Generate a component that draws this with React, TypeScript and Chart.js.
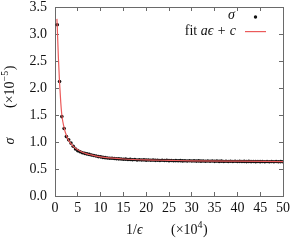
import React, { useEffect, useRef } from "react";
import { Chart, registerables } from "chart.js";

Chart.register(...registerables);

const sigmaX = [
  0.5, 1, 1.5, 2, 2.5, 3, 3.5, 4, 4.5, 5,
  5.5, 6, 6.5, 7, 7.5, 8, 8.5, 9, 9.5, 10,
  10.5, 11, 11.5, 12, 12.5, 13, 13.5, 14, 14.5, 15,
  15.5, 16, 16.5, 17, 17.5, 18, 18.5, 19, 19.5, 20,
  20.5, 21, 21.5, 22, 22.5, 23, 23.5, 24, 24.5, 25,
  25.5, 26, 26.5, 27, 27.5, 28, 28.5, 29, 29.5, 30,
  30.5, 31, 31.5, 32, 32.5, 33, 33.5, 34, 34.5, 35,
  35.5, 36, 36.5, 37, 37.5, 38, 38.5, 39, 39.5, 40,
  40.5, 41, 41.5, 42, 42.5, 43, 43.5, 44, 44.5, 45,
  45.5, 46, 46.5, 47, 47.5, 48, 48.5, 49, 49.5, 50,
];
const sigmaY = [
  3.17, 2.12, 1.47, 1.25, 1.1, 1.04, 0.98, 0.92, 0.87, 0.84,
  0.82, 0.8, 0.79, 0.78, 0.77, 0.76, 0.75, 0.74, 0.73, 0.725,
  0.715, 0.71, 0.705, 0.7, 0.7, 0.695, 0.69, 0.688, 0.685, 0.68,
  0.682, 0.676, 0.678, 0.672, 0.675, 0.668, 0.671, 0.666, 0.669, 0.664,
  0.667, 0.662, 0.665, 0.66, 0.663, 0.658, 0.661, 0.657, 0.66, 0.655,
  0.658, 0.653, 0.656, 0.652, 0.655, 0.65, 0.654, 0.649, 0.652, 0.648,
  0.651, 0.646, 0.65, 0.645, 0.649, 0.644, 0.648, 0.643, 0.647, 0.642,
  0.646, 0.641, 0.645, 0.64, 0.644, 0.64, 0.643, 0.639, 0.643, 0.638,
  0.642, 0.638, 0.641, 0.637, 0.641, 0.637, 0.64, 0.636, 0.64, 0.636,
  0.639, 0.635, 0.639, 0.635, 0.638, 0.634, 0.638, 0.634, 0.637, 0.634,
];

const fitX = [0.42, 0.5, 0.75, 1, 1.25, 1.5, 2, 2.5, 3, 3.5, 4, 5, 6, 7, 8, 10, 12, 15, 20, 25, 30, 40, 50];
const fitY = [3.28, 3.12, 2.55, 2.1, 1.75, 1.5, 1.26, 1.12, 1.03, 0.97, 0.92, 0.855, 0.81, 0.78, 0.76, 0.725, 0.705, 0.685, 0.668, 0.66, 0.652, 0.644, 0.638];

const xTicks = [0, 5, 10, 15, 20, 25, 30, 35, 40, 45, 50];
const yTicks = [0, 0.5, 1, 1.5, 2, 2.5, 3, 3.5];

const SERIF = '"Liberation Serif", "DejaVu Serif", serif';
const RED = "rgb(235,90,90)";
const AXIS = "#6a6a6a";
const FS = 14;

const textPlugin = {
  id: "texts",
  afterDraw(chart: any) {
    const ctx = chart.ctx;
    ctx.save();
    ctx.fillStyle = "#111";
    ctx.textBaseline = "middle";
    // legend
    ctx.textAlign = "right";
    ctx.font = `italic ${FS}px ${SERIF}`;
    ctx.fillText("σ", 235, 15);
    ctx.beginPath();
    ctx.arc(255.5, 17, 1.7, 0, Math.PI * 2);
    ctx.fill();
    const part2 = "aϵ + c";
    const w2 = ctx.measureText(part2).width;
    ctx.fillText(part2, 236, 31);
    ctx.font = `${FS}px ${SERIF}`;
    ctx.fillText("fit ", 236 - w2, 31);
    ctx.fillStyle = RED;
    ctx.fillRect(245, 31, 21, 1.2);
    ctx.fillStyle = "#111";

    // x axis title
    ctx.textAlign = "left";
    ctx.font = `${FS}px ${SERIF}`;
    ctx.fillText("1/", 126, 230);
    const w1 = ctx.measureText("1/").width;
    ctx.font = `italic ${FS}px ${SERIF}`;
    ctx.fillText("ϵ", 126 + w1, 230);
    ctx.font = `${FS}px ${SERIF}`;
    let x0 = 171;
    ctx.fillText("(×10", x0, 230);
    x0 += ctx.measureText("(×10").width;
    ctx.font = `10px ${SERIF}`;
    ctx.fillText("4", x0, 225);
    x0 += ctx.measureText("4").width + 0.5;
    ctx.font = `${FS}px ${SERIF}`;
    ctx.fillText(")", x0, 230);

    // y axis title
    ctx.save();
    ctx.translate(10, 141);
    ctx.rotate(-Math.PI / 2);
    ctx.textAlign = "center";
    ctx.font = `italic ${FS}px ${SERIF}`;
    ctx.fillText("σ", 0, 0);
    ctx.restore();

    ctx.save();
    ctx.translate(10, 108);
    ctx.rotate(-Math.PI / 2);
    ctx.textAlign = "left";
    ctx.font = `${FS}px ${SERIF}`;
    let y0 = 0;
    ctx.fillText("(×10", y0, 0);
    y0 += ctx.measureText("(×10").width;
    ctx.font = `10px ${SERIF}`;
    ctx.fillText("−5", y0, -5);
    y0 += ctx.measureText("−5").width + 0.5;
    ctx.font = `${FS}px ${SERIF}`;
    ctx.fillText(")", y0, 0);
    ctx.restore();

    ctx.restore();
  },
};

const gridOpts = {
  display: true,
  drawOnChartArea: false,
  drawTicks: true,
  tickLength: -4,
  color: AXIS,
  lineWidth: 1,
};
const borderOpts = { display: true, color: AXIS, width: 1 };

export default function App() {
  const ref = useRef<HTMLCanvasElement>(null);
  useEffect(() => {
    document.body.style.margin = "0";
    const fitData = fitX.map((x, i) => ({ x, y: fitY[i] }));
    const sigmaData = sigmaX.map((x, i) => ({ x, y: sigmaY[i] }));
    const setX = (s: any) => {
      s.ticks = xTicks.map((v) => ({ value: v }));
    };
    const setY = (s: any) => {
      s.ticks = yTicks.map((v) => ({ value: v }));
    };
    const chart = new Chart(ref.current as HTMLCanvasElement, {
      type: "scatter",
      data: {
        datasets: [
          {
            label: "fit",
            data: fitData,
            showLine: true,
            borderColor: RED,
            borderWidth: 1.2,
            pointRadius: 0,
            cubicInterpolationMode: "monotone",
          } as any,
          {
            label: "σ",
            data: sigmaData,
            pointRadius: 1.8,
            pointBackgroundColor: "#111",
            pointBorderWidth: 0,
            borderColor: "#111",
          },
        ],
      },
      options: {
        animation: false,
        responsive: false,
        layout: { padding: { top: 7, right: 10, left: 0, bottom: 0 } },
        plugins: { legend: { display: false }, tooltip: { enabled: false } },
        scales: {
          x: {
            type: "linear",
            position: "bottom",
            min: 0,
            max: 50,
            grid: gridOpts,
            border: borderOpts,
            afterFit: (s: any) => {
              s.height = 44;
              s.paddingLeft = 0;
              s.paddingRight = 0;
            },
            afterBuildTicks: setX,
            ticks: {
              padding: 8,
              color: "#111",
              font: { family: SERIF, size: FS },
              maxRotation: 0,
              callback: (v: any) => String(v),
            },
          },
          x2: {
            type: "linear",
            position: "top",
            display: true,
            min: 0,
            max: 50,
            grid: gridOpts,
            border: borderOpts,
            afterFit: (s: any) => {
              s.height = 0;
              s.paddingLeft = 0;
              s.paddingRight = 0;
            },
            afterBuildTicks: setX,
            ticks: { display: false },
          },
          y: {
            type: "linear",
            position: "left",
            min: 0,
            max: 3.5,
            grid: gridOpts,
            border: borderOpts,
            afterFit: (s: any) => {
              s.width = 55;
              s.paddingTop = 0;
              s.paddingBottom = 0;
            },
            afterBuildTicks: setY,
            ticks: {
              padding: 12,
              color: "#111",
              font: { family: SERIF, size: FS },
              callback: (v: any) => Number(v).toFixed(1),
            },
          },
          y2: {
            type: "linear",
            position: "right",
            display: true,
            min: 0,
            max: 3.5,
            grid: gridOpts,
            border: borderOpts,
            afterFit: (s: any) => {
              s.width = 0;
              s.paddingTop = 0;
              s.paddingBottom = 0;
            },
            afterBuildTicks: setY,
            ticks: { display: false },
          },
        },
      } as any,
      plugins: [textPlugin],
    });
    return () => chart.destroy();
  }, []);
  return (
    <div style={{ position: "absolute", left: 0, top: 0 }}>
      <canvas ref={ref} width={293} height={240} />
    </div>
  );
}
